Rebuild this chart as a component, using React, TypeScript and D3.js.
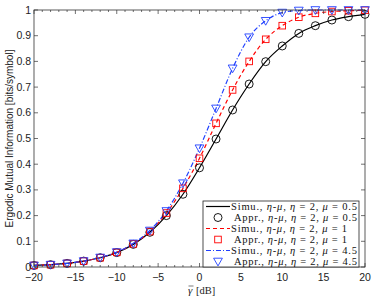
import * as d3 from 'd3';

// SNR grid in dB
const snrDb = [-20, -18, -16, -14, -12, -10, -8, -6, -4, -2, 0, 2, 4, 6, 8, 10, 12, 14, 16, 18, 20];

// ergodic mutual information, eta-mu fading, eta = 2
const mu05 = [0.006, 0.009, 0.014, 0.023, 0.036, 0.056, 0.088, 0.135, 0.2, 0.283, 0.386, 0.498, 0.611, 0.712, 0.799, 0.86, 0.909, 0.939, 0.961, 0.974, 0.983];
const mu1 = [0.006, 0.009, 0.014, 0.023, 0.036, 0.057, 0.09, 0.138, 0.21, 0.306, 0.423, 0.559, 0.689, 0.8, 0.886, 0.939, 0.972, 0.987, 0.994, 0.997, 0.999];
const mu45 = [0.006, 0.009, 0.014, 0.023, 0.037, 0.058, 0.092, 0.142, 0.218, 0.326, 0.462, 0.617, 0.773, 0.894, 0.958, 0.99, 0.998, 1, 1, 1, 1];

const xTicks = [-20, -15, -10, -5, 0, 5, 10, 15, 20];
const yTicks = [0, 0.1, 0.2, 0.3, 0.4, 0.5, 0.6, 0.7, 0.8, 0.9, 1];

const muLabels = ['0.5', '1', '4.5'];
const seriesColors = ['#000000', '#ff0000', '#2040ff'];
const seriesDash = ['', '4,3', '5,2,1,2'];
const markerKinds = ['circle', 'square', 'triangle'];

const W = 374;
const H = 298;
const margin = { top: 10, right: 9, bottom: 31, left: 34 };

const serif = '"Liberation Serif", "DejaVu Serif", serif';
const sans = '"Liberation Sans", Arial, sans-serif';

function Marker({ kind, x, y, color }: { kind: string; x: number; y: number; color: string }) {
  if (kind === 'circle') return <circle cx={x} cy={y} r={4} fill="none" stroke={color} strokeWidth={0.9} />;
  if (kind === 'square') return <rect x={x - 3.3} y={y - 3.3} width={6.6} height={6.6} fill="none" stroke={color} strokeWidth={0.9} />;
  return <path d={`M${x - 4.4},${y - 3.3}L${x + 4.4},${y - 3.3}L${x},${y + 4.4}Z`} fill="none" stroke={color} strokeWidth={0.9} />;
}

export default function App() {
  const innerW = W - margin.left - margin.right;
  const innerH = H - margin.top - margin.bottom;
  const x = d3.scaleLinear().domain([-20, 20]).range([margin.left, margin.left + innerW]);
  const y = d3.scaleLinear().domain([0, 1]).range([margin.top + innerH, margin.top]);

  const allSeries = [mu05, mu1, mu45];
  const line = d3.line<number>()
    .x((_, i) => x(snrDb[i]))
    .y(d => y(d))
    .curve(d3.curveMonotoneX);

  const minorTicks = d3.range(-20, 21, 1);
  const x0 = margin.left, x1 = margin.left + innerW, y0 = margin.top + innerH, y1 = margin.top;

  // legend geometry
  const lgX = 203, lgY = 201, lgW = 156, lgH = 66, rowH = 11;
  const textEnd = [357, 347, 357];

  const legendText = (kind: string, mu: string) => (
    <>
      <tspan>{kind}., </tspan>
      <tspan fontStyle="italic">η</tspan>
      <tspan>-</tspan>
      <tspan fontStyle="italic">μ</tspan>
      <tspan>, </tspan>
      <tspan fontStyle="italic">η</tspan>
      <tspan> = 2, </tspan>
      <tspan fontStyle="italic">μ</tspan>
      <tspan> = {mu}</tspan>
    </>
  );

  const gx = 188;

  return (
    <svg width={W} height={H} style={{ position: 'absolute', left: 0, top: 0, background: '#fff' }}>
      <rect x={0} y={0} width={W} height={H} fill="#fff" />
      <defs>
        <clipPath id="plotClip">
          <rect x={x0} y={y1 - 1} width={innerW} height={innerH + 1} />
        </clipPath>
      </defs>

      {/* curves */}
      <g clipPath="url(#plotClip)">
        {allSeries.map((s, k) => (
          <path key={k} d={line(s) || ''} fill="none" stroke={seriesColors[k]} strokeWidth={1.2} strokeDasharray={seriesDash[k]} />
        ))}
      </g>
      {allSeries.map((s, k) => (
        <g key={k}>
          {s.map((v, i) => (
            <Marker key={i} kind={markerKinds[k]} x={x(snrDb[i])} y={y(v)} color={seriesColors[k]} />
          ))}
        </g>
      ))}

      {/* axes box and ticks */}
      <rect x={x0} y={y1} width={innerW} height={innerH} fill="none" stroke="#333" strokeWidth={0.8} />
      {minorTicks.map(t => {
        const len = t % 5 === 0 ? 4 : 2;
        return (
          <g key={t} stroke="#333" strokeWidth={0.7}>
            <line x1={x(t)} x2={x(t)} y1={y0} y2={y0 - len} />
            <line x1={x(t)} x2={x(t)} y1={y1} y2={y1 + len} />
          </g>
        );
      })}
      {yTicks.map(t => (
        <g key={t} stroke="#333" strokeWidth={0.7}>
          <line x1={x0} x2={x0 + 4} y1={y(t)} y2={y(t)} />
          <line x1={x1} x2={x1 - 4} y1={y(t)} y2={y(t)} />
        </g>
      ))}

      {/* tick labels */}
      {xTicks.map(t => (
        <text key={t} x={x(t)} y={y0 + 14} textAnchor="middle" fontFamily={sans} fontSize={10.5} fill="#222">
          {t < 0 ? `\u2212${Math.abs(t)}` : t}
        </text>
      ))}
      {yTicks.map(t => (
        <text key={t} x={x0 - 3} y={y(t) + 3.5} textAnchor="end" fontFamily={sans} fontSize={10.5} fill="#222">
          {t === 0 || t === 1 ? t : t.toFixed(1)}
        </text>
      ))}

      {/* axis titles */}
      <text x={gx} y={294} fontFamily={serif} fontSize={11} fontStyle="italic" fill="#222">γ</text>
      <line x1={gx + 0.5} x2={gx + 5.5} y1={286} y2={286} stroke="#222" strokeWidth={0.6} />
      <text x={gx + 8} y={294} fontFamily={serif} fontSize={10.5} fill="#222">[dB]</text>
      <text transform={`translate(13,${(y0 + y1) / 2}) rotate(-90)`} textAnchor="middle" fontFamily={sans} fontSize={10} fill="#222">
        Ergodic Mutual Information [bits/symbol]
      </text>

      {/* legend */}
      <rect x={lgX} y={lgY} width={lgW} height={lgH} fill="#fff" stroke="#222" strokeWidth={0.8} />
      {muLabels.map((mu, k) => {
        const ySimu = lgY + 5.5 + (2 * k) * rowH;
        const yAppr = ySimu + rowH;
        return (
          <g key={mu}>
            <line x1={lgX + 3} x2={lgX + 27} y1={ySimu} y2={ySimu} stroke={seriesColors[k]} strokeWidth={1.2} strokeDasharray={seriesDash[k]} />
            <text x={lgX + 28} y={ySimu + 3.5} fontFamily={serif} fontSize={10.5} fill="#111"
              textLength={textEnd[k] - lgX - 28} lengthAdjust="spacing">{legendText('Simu', mu)}</text>
            <Marker kind={markerKinds[k]} x={lgX + 15} y={yAppr} color={seriesColors[k]} />
            <text x={lgX + 31} y={yAppr + 3.5} fontFamily={serif} fontSize={10.5} fill="#111"
              textLength={textEnd[k] - lgX - 31} lengthAdjust="spacing">{legendText('Appr', mu)}</text>
          </g>
        );
      })}
    </svg>
  );
}
